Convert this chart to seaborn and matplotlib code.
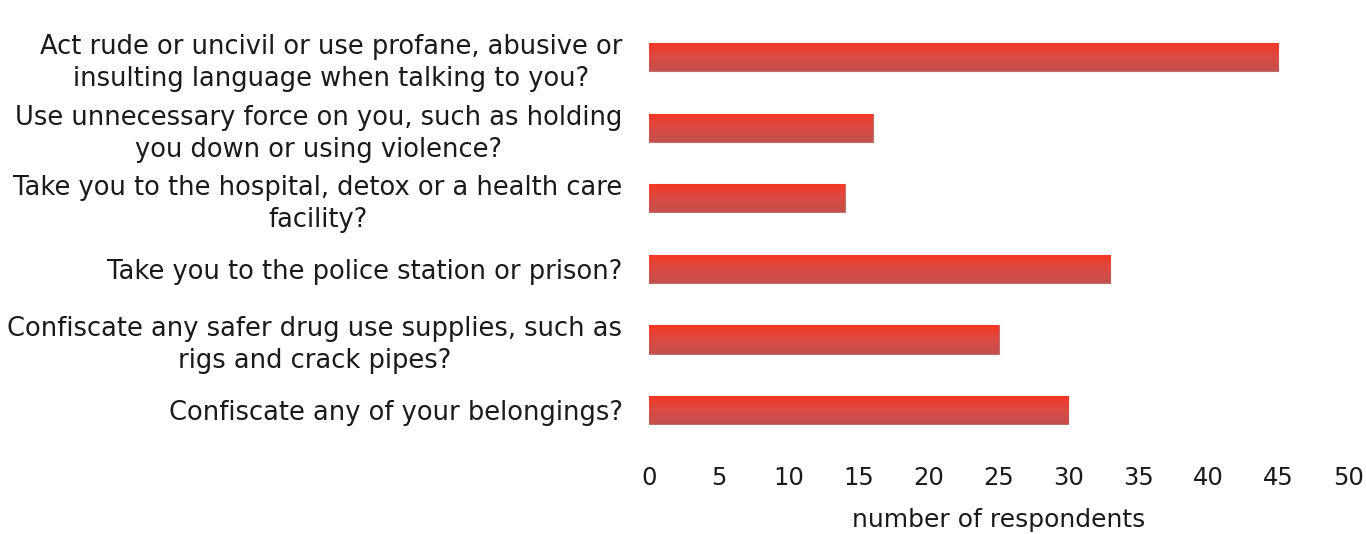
import numpy as np
import pandas as pd
import matplotlib
matplotlib.use('Agg')
import matplotlib.pyplot as plt
import seaborn as sns
from matplotlib.colors import LinearSegmentedColormap

questions = [
    "Act rude or uncivil or use profane, abusive or\ninsulting language when talking to you?",
    "Use unnecessary force on you, such as holding\nyou down or using violence?",
    "Take you to the hospital, detox or a health care\nfacility?",
    "Take you to the police station or prison?",
    "Confiscate any safer drug use supplies, such as\nrigs and crack pipes?",
    "Confiscate any of your belongings?",
]
respondents = [45, 16, 14, 33, 25, 30]
x_ticks = [0, 5, 10, 15, 20, 25, 30, 35, 40, 45, 50]

df = pd.DataFrame({'question': questions, 'respondents': respondents})

sns.set_style('white')
plt.rcParams['font.family'] = ['DejaVu Sans']

fig = plt.figure(figsize=(13.66, 5.34), dpi=100)
ax = fig.add_axes([0.475, 0.166, 0.512, 0.793])

sns.barplot(data=df, x='respondents', y='question', orient='h',
            color='#E0433A', width=0.4, ax=ax)

# vertical red gradient on each bar
grad = LinearSegmentedColormap.from_list('bar', ['#F73623', '#DB4A42', '#C4504D'])
g = np.linspace(0, 1, 64).reshape(-1, 1)
for p in ax.patches:
    x0, y0 = p.get_x(), p.get_y()
    w, h = p.get_width(), p.get_height()
    im = ax.imshow(g, cmap=grad, aspect='auto', extent=(x0, x0 + w, y0 + h, y0),
                   zorder=p.get_zorder() + 0.1)
    im.set_clip_path(p)
    p.set_edgecolor('#C0706C')
    p.set_linewidth(0.8)

ax.set_xlim(0, 50)
ax.set_ylim(len(questions) - 0.5, -0.5)
ax.set_xticks(x_ticks)
ax.tick_params(axis='x', labelsize=17.5, colors='#1a1a1a', length=0, pad=15)
ax.tick_params(axis='y', labelsize=18.5, colors='#1a1a1a', length=0, pad=19)
for lbl in ax.get_yticklabels():
    lbl.set_multialignment('center')
    lbl.set_linespacing(1.3)
ax.set_xlabel('number of respondents', fontsize=18, color='#1a1a1a', labelpad=13)
ax.set_ylabel('')
sns.despine(ax=ax, left=True, bottom=True)

fig.savefig('out.png', dpi=100)
